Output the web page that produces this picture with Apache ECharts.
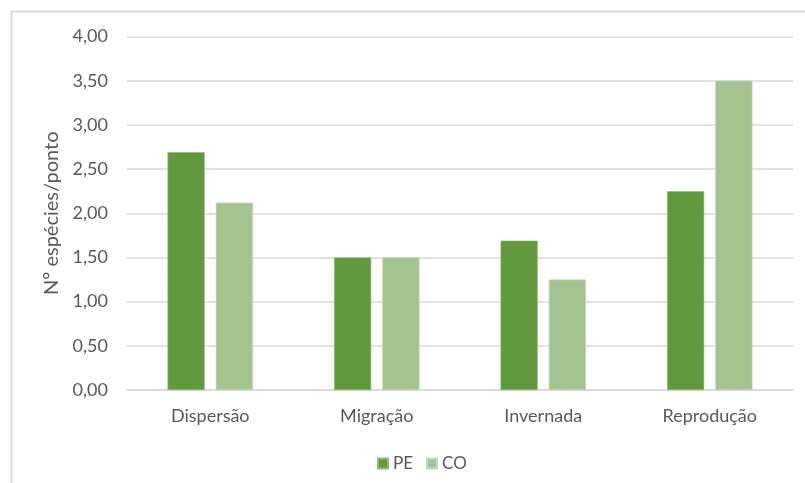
<!DOCTYPE html>
<html>
<head>
<meta charset="utf-8">
<script src="https://cdn.jsdelivr.net/npm/echarts@6/dist/echarts.min.js"></script>
<style>
  html, body { margin: 0; padding: 0; background: #fff; }
  #chart { width: 805px; height: 483px; }
</style>
</head>
<body>
<div id="chart"></div>
<script>
// Categories and values
const categories = ['Dispersão', 'Migração', 'Invernada', 'Reprodução'];
const seriesPE = [2.69, 1.50, 1.69, 2.25];
const seriesCO = [2.12, 1.50, 1.25, 3.50];
const yTicks = [0, 0.5, 1, 1.5, 2, 2.5, 3, 3.5, 4];

const FONT = 'Lato, "Open Sans", sans-serif';
const TEXT = '#595959';

const chart = echarts.init(document.getElementById('chart'), null, { renderer: 'canvas' });

chart.setOption({
  animation: false,
  backgroundColor: '#ffffff',
  graphic: [{
    type: 'polyline',
    shape: { points: [[11.5, 490], [11.5, 11.5], [810, 11.5]] },
    style: { stroke: '#d9d9d9', lineWidth: 2, fill: null },
    silent: true
  }],
  grid: { left: 127, right: 12, top: 36.5, bottom: 93, containLabel: false },
  legend: {
    data: ['PE', 'CO'],
    top: 450,
    left: 372,
    itemWidth: 10,
    itemHeight: 10,
    itemGap: 13,
    icon: 'rect',
    textStyle: { color: TEXT, fontFamily: FONT, fontSize: 17 }
  },
  xAxis: {
    type: 'category',
    data: categories,
    axisLine: { show: true, lineStyle: { color: '#d9d9d9', width: 1.5 } },
    axisTick: { show: false },
    axisLabel: { color: TEXT, fontFamily: FONT, fontSize: 18, margin: 17 }
  },
  yAxis: {
    type: 'value',
    min: yTicks[0],
    max: yTicks[yTicks.length - 1],
    interval: 0.5,
    name: 'Nº espécies/ponto',
    nameLocation: 'middle',
    nameGap: 62,
    nameTextStyle: { color: TEXT, fontFamily: FONT, fontSize: 20, padding: [0, 0, 0, 0] },
    axisLine: { show: false },
    axisTick: { show: false },
    splitLine: { lineStyle: { color: '#d9d9d9', width: 1.5 } },
    axisLabel: {
      color: TEXT, fontFamily: FONT, fontSize: 18, margin: 19,
      formatter: v => v.toFixed(2).replace('.', ',')
    }
  },
  series: [
    {
      name: 'PE', type: 'bar', data: seriesPE,
      barWidth: '22.3%', barGap: '30%',
      itemStyle: { color: '#63993d', borderColor: '#8cb874', borderWidth: 0.6 }
    },
    {
      name: 'CO', type: 'bar', data: seriesCO,
      barWidth: '22.3%',
      itemStyle: { color: '#a3c490', borderColor: '#c3dab5', borderWidth: 0.6 }
    }
  ]
});
</script>
</body>
</html>
